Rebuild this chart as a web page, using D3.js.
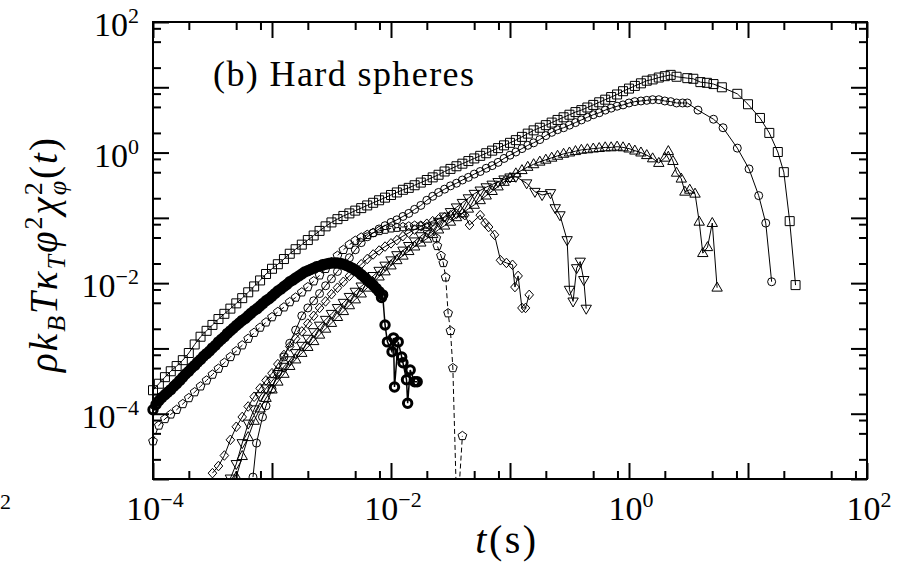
<!DOCTYPE html>
<html>
<head>
<meta charset="utf-8">
<script src="https://cdn.jsdelivr.net/npm/d3@7"></script>
<style>
  html, body { margin: 0; padding: 0; background: #fff; }
  svg { display: block; }
  text { font-family: "Liberation Serif", "Times New Roman", serif; fill: #000; }
</style>
</head>
<body>
<div id="container"></div>
<script>
"use strict";

// Shared log-spaced sampling times (s) for the dense early part of the runs.
const tGrid = [
  1.00e-4, 1.12e-4, 1.26e-4, 1.41e-4, 1.58e-4, 1.78e-4, 2.00e-4, 2.24e-4, 2.51e-4, 2.82e-4,
  3.16e-4, 3.55e-4, 3.98e-4, 4.47e-4, 5.01e-4, 5.62e-4, 6.31e-4, 7.08e-4, 7.94e-4, 8.91e-4,
  1.00e-3, 1.12e-3, 1.26e-3, 1.41e-3, 1.58e-3, 1.78e-3, 2.00e-3, 2.24e-3, 2.51e-3, 2.82e-3,
  3.16e-3, 3.55e-3, 3.98e-3, 4.47e-3, 5.01e-3, 5.62e-3, 6.31e-3, 7.08e-3, 7.94e-3, 8.91e-3,
  1.00e-2, 1.12e-2, 1.26e-2, 1.41e-2, 1.58e-2, 1.78e-2, 2.00e-2, 2.24e-2, 2.51e-2, 2.82e-2,
  3.16e-2, 3.55e-2, 3.98e-2, 4.47e-2, 5.01e-2, 5.62e-2, 6.31e-2, 7.08e-2, 7.94e-2, 8.91e-2,
  0.100, 0.112, 0.126, 0.141, 0.158, 0.178, 0.200, 0.224, 0.251, 0.282,
  0.316, 0.355, 0.398, 0.447, 0.501, 0.562, 0.631, 0.708, 0.794, 0.891,
  1.00, 1.12, 1.26, 1.41, 1.58, 1.78, 2.00, 2.24
];

// Finer sampling used by the bold-circle run.
const tFine = [
  1.00e-4, 1.06e-4, 1.12e-4, 1.19e-4, 1.26e-4, 1.33e-4, 1.41e-4, 1.50e-4, 1.58e-4, 1.68e-4,
  1.78e-4, 1.88e-4, 2.00e-4, 2.11e-4, 2.24e-4, 2.37e-4, 2.51e-4, 2.66e-4, 2.82e-4, 2.99e-4,
  3.16e-4, 3.35e-4, 3.55e-4, 3.76e-4, 3.98e-4, 4.22e-4, 4.47e-4, 4.73e-4, 5.01e-4, 5.31e-4,
  5.62e-4, 5.96e-4, 6.31e-4, 6.68e-4, 7.08e-4, 7.50e-4, 7.94e-4, 8.41e-4, 8.91e-4, 9.44e-4,
  1.00e-3, 1.06e-3, 1.12e-3, 1.19e-3, 1.26e-3, 1.33e-3, 1.41e-3, 1.50e-3, 1.58e-3, 1.68e-3,
  1.78e-3, 1.88e-3, 2.00e-3, 2.11e-3, 2.24e-3, 2.37e-3, 2.51e-3, 2.66e-3, 2.82e-3, 2.99e-3,
  3.16e-3, 3.35e-3, 3.55e-3, 3.76e-3, 3.98e-3, 4.22e-3, 4.47e-3, 4.73e-3, 5.01e-3, 5.31e-3,
  5.62e-3, 5.96e-3, 6.31e-3, 6.68e-3, 7.08e-3, 7.50e-3, 7.94e-3
];

// Squares.
const squaresStart = 0;
const squaresDense = [
  2.29e-4, 2.88e-4, 3.63e-4, 4.47e-4, 5.37e-4, 6.61e-4, 8.51e-4, 1.15e-3, 1.51e-3, 1.86e-3,
  2.29e-3, 2.82e-3, 3.39e-3, 4.07e-3, 4.90e-3, 5.89e-3, 7.24e-3, 8.91e-3, 1.10e-2,
  1.38e-2, 1.66e-2, 1.95e-2, 2.34e-2, 2.82e-2, 3.31e-2, 3.89e-2, 4.57e-2, 5.37e-2, 6.31e-2,
  7.41e-2, 8.51e-2, 9.55e-2,
  0.107, 0.117, 0.129, 0.141, 0.155, 0.170, 0.186, 0.204, 0.224, 0.245,
  0.269, 0.288, 0.316, 0.347, 0.380, 0.417, 0.457, 0.513, 0.562, 0.617,
  0.676, 0.741, 0.813, 0.891, 0.977, 1.07, 1.17,
  1.29, 1.41, 1.55, 1.74, 1.95, 2.19, 2.40, 2.63, 2.88, 3.16,
  3.47, 3.80, 4.17, 4.47, 4.90, 5.37, 5.89, 6.46, 7.08, 7.76,
  8.71, 9.55, 10.5, 11.5, 12.6, 13.2, 14.1, 14.8, 15.5
];
const squaresTail = [
  [2.51, 14.5], [3.09, 13.8], [3.47, 13.5], [3.98, 12.0], [4.52, 11.7], [5.13, 11.2],
  [6.03, 10.0], [8.13, 7.94], [10.0, 5.50], [12.6, 3.39], [15.1, 2.00], [17.8, 1.02],
  [20.0, 0.501], [22.4, 0.0891], [25.1, 0.00933]
];

// Thin circles.
const circlesHead = [[6.92e-4, 1.07e-5], [7.41e-4, 3.55e-5], [8.32e-4, 8.91e-5]];
const circlesStart = 19;
const circlesDense = [
  1.32e-4, 2.40e-4, 4.37e-4, 7.41e-4, 1.20e-3, 1.91e-3, 3.16e-3, 4.17e-3, 5.37e-3, 6.92e-3,
  9.12e-3, 1.17e-2, 1.51e-2, 1.95e-2, 2.45e-2, 3.24e-2, 4.17e-2, 5.13e-2, 5.89e-2, 6.76e-2,
  7.59e-2, 8.51e-2, 9.33e-2, 0.105, 0.117, 0.135, 0.155, 0.186, 0.214, 0.245,
  0.275, 0.309, 0.339, 0.380, 0.417, 0.468, 0.513, 0.575, 0.631, 0.708,
  0.813, 0.912, 1.02, 1.15, 1.29, 1.41, 1.58, 1.82, 2.04, 2.24,
  2.40, 2.63, 2.88, 3.16, 3.47, 3.80, 4.07, 4.47, 4.79, 5.13,
  5.37, 5.75, 6.03, 6.17, 6.31, 6.46, 6.46, 6.17
];
const circlesTail = [
  [2.24, 6.03], [2.51, 5.75], [2.82, 5.75], [3.09, 5.75], [3.80, 4.47], [5.13, 3.24],
  [6.17, 2.40], [8.13, 1.17], [10.2, 0.562], [12.3, 0.219], [14.1, 0.0832], [15.8, 0.0105]
];

// Up triangles.
const upStart = 14;
const upDense = [
  1.07e-5, 2.24e-5, 4.37e-5, 7.76e-5, 1.20e-4, 1.74e-4, 2.34e-4, 3.09e-4, 4.07e-4, 5.37e-4,
  6.76e-4, 8.51e-4, 1.05e-3, 1.29e-3, 1.62e-3, 2.00e-3, 2.45e-3, 3.02e-3, 3.72e-3, 4.57e-3,
  5.62e-3, 6.92e-3, 8.51e-3, 1.02e-2, 1.26e-2, 1.51e-2, 1.86e-2, 2.24e-2, 2.63e-2, 3.09e-2,
  3.63e-2, 4.17e-2, 4.79e-2, 5.62e-2, 6.61e-2, 7.59e-2, 8.71e-2, 0.102, 0.117, 0.138,
  0.158, 0.186, 0.219, 0.257, 0.302, 0.355, 0.407, 0.479, 0.537, 0.603,
  0.661, 0.724, 0.776, 0.832, 0.891, 0.955, 1.00, 1.05, 1.10, 1.12,
  1.15, 1.17, 1.20, 1.20, 1.23, 1.20, 1.15, 1.07, 1.00, 0.912, 0.813
];
const upTail = [
  [1.78, 0.692], [2.00, 0.832], [2.14, 1.05], [2.34, 0.741], [2.51, 0.490], [2.75, 0.398],
  [2.95, 0.251], [3.24, 0.269], [3.59, 0.234], [3.89, 0.0871], [4.17, 0.0288], [4.57, 0.0355],
  [5.01, 0.0832], [5.50, 0.00851]
];

// Down triangles.
const downStart = 13;
const downDense = [
  1.02e-5, 1.70e-5, 3.55e-5, 7.08e-5, 1.17e-4, 1.86e-4, 2.45e-4, 3.16e-4, 4.07e-4, 5.25e-4,
  6.61e-4, 8.51e-4, 1.10e-3, 1.41e-3, 1.78e-3, 2.24e-3, 2.75e-3, 3.39e-3, 4.17e-3, 5.01e-3,
  6.17e-3, 7.41e-3, 8.91e-3, 1.07e-2, 1.29e-2, 1.55e-2, 1.86e-2, 2.24e-2, 2.69e-2, 3.16e-2,
  3.72e-2, 4.37e-2, 5.25e-2, 6.17e-2, 7.41e-2, 8.71e-2, 0.105, 0.123, 0.145, 0.170,
  0.200, 0.234, 0.263, 0.295, 0.324, 0.355, 0.389, 0.417, 0.427
];
const downTail = [
  [0.138, 0.339], [0.162, 0.251], [0.186, 0.224], [0.219, 0.240], [0.240, 0.141],
  [0.263, 0.110], [0.302, 0.0457], [0.316, 0.00794], [0.339, 0.00525], [0.363, 0.0170],
  [0.389, 0.0214], [0.417, 0.0112], [0.437, 0.00407]
];

// Diamonds.
const diamondStart = 10;
const diamondDense = [
  1.23e-5, 1.58e-5, 2.29e-5, 3.98e-5, 6.31e-5, 8.91e-5, 1.29e-4, 1.82e-4, 2.45e-4, 3.24e-4,
  4.17e-4, 5.75e-4, 7.94e-4, 1.07e-3, 1.41e-3, 1.82e-3, 2.40e-3, 3.16e-3, 4.17e-3, 5.25e-3,
  6.76e-3, 8.51e-3, 1.05e-2, 1.29e-2, 1.58e-2, 1.95e-2, 2.34e-2, 2.75e-2, 3.16e-2, 3.63e-2,
  4.07e-2, 4.57e-2, 5.25e-2, 5.89e-2, 6.61e-2, 7.41e-2, 8.13e-2, 8.91e-2, 9.55e-2, 0.102,
  0.110, 0.115, 0.117
];
const diamondTail = [
  [0.0417, 0.110], [0.0457, 0.0776], [0.0562, 0.110], [0.0617, 0.0832], [0.0661, 0.0724],
  [0.0741, 0.0550], [0.0832, 0.0224], [0.0933, 0.0204], [0.105, 0.0191], [0.110, 0.00871],
  [0.117, 0.0129], [0.126, 0.00417], [0.135, 0.00417], [0.145, 0.00661]
];

// Pentagons (dashed).
const pentStart = 0;
const pentDense = [
  3.80e-5, 6.61e-5, 8.32e-5, 9.77e-5, 1.15e-4, 1.41e-4, 1.74e-4, 2.14e-4, 2.63e-4, 3.24e-4,
  3.98e-4, 4.90e-4, 6.03e-4, 7.41e-4, 9.12e-4, 1.12e-3, 1.41e-3, 1.74e-3, 2.09e-3, 2.51e-3,
  3.02e-3, 3.63e-3, 4.27e-3, 5.13e-3, 6.03e-3, 7.24e-3, 8.71e-3, 1.07e-2, 1.32e-2, 1.66e-2,
  2.09e-2, 2.63e-2, 3.24e-2, 3.89e-2, 4.47e-2, 5.01e-2, 5.50e-2, 5.89e-2, 6.31e-2, 6.61e-2,
  6.92e-2, 7.08e-2, 7.24e-2, 7.41e-2, 7.59e-2, 7.59e-2, 7.24e-2
];
const pentTail = [
  [0.0240, 0.0490], [0.0245, 0.0372], [0.0263, 0.0263], [0.0275, 0.0204], [0.0288, 0.0123],
  [0.0302, 0.00347], [0.0316, 0.00186], [0.0331, 5.01e-4], [0.0359, 2.3e-6], [0.0398, 4.57e-5]
];

// Bold circles.
const boldDense = [
  1.15e-4, 1.38e-4, 1.58e-4, 1.78e-4, 1.95e-4, 2.14e-4, 2.34e-4, 2.63e-4, 2.88e-4, 3.24e-4,
  3.63e-4, 4.07e-4, 4.47e-4, 5.01e-4, 5.50e-4, 6.17e-4, 6.76e-4, 7.59e-4, 8.32e-4, 9.12e-4,
  1.02e-3, 1.12e-3, 1.26e-3, 1.38e-3, 1.51e-3, 1.70e-3, 1.86e-3, 2.04e-3, 2.24e-3, 2.45e-3,
  2.69e-3, 2.88e-3, 3.16e-3, 3.47e-3, 3.80e-3, 4.07e-3, 4.47e-3, 4.90e-3, 5.37e-3, 5.75e-3,
  6.31e-3, 6.92e-3, 7.59e-3, 8.13e-3, 8.91e-3, 9.55e-3, 1.05e-2, 1.12e-2, 1.20e-2, 1.29e-2,
  1.38e-2, 1.48e-2, 1.55e-2, 1.62e-2, 1.70e-2, 1.78e-2, 1.82e-2, 1.91e-2, 1.95e-2, 2.00e-2,
  2.04e-2, 2.04e-2, 2.04e-2, 2.00e-2, 1.95e-2, 1.86e-2, 1.78e-2, 1.70e-2, 1.58e-2, 1.48e-2,
  1.35e-2, 1.23e-2, 1.12e-2, 1.02e-2, 9.33e-3, 8.32e-3, 7.41e-3
];
const boldTail = [
  [8.32e-3, 6.03e-3], [8.51e-3, 6.61e-3], [8.91e-3, 2.29e-3], [9.33e-3, 1.26e-3],
  [1.02e-2, 8.91e-4], [1.05e-2, 1.45e-3], [1.07e-2, 2.57e-4], [1.15e-2, 1.26e-3],
  [1.23e-2, 7.41e-4], [1.26e-2, 6.03e-4], [1.35e-2, 3.31e-4], [1.38e-2, 1.45e-4],
  [1.45e-2, 4.68e-4], [1.58e-2, 3.09e-4], [1.66e-2, 3.09e-4]
];

// Tick labels (powers of ten).
const xLabelExps = [-4, -2, 0, 2];
const yLabelExps = [-4, -2, 0, 2];
const minorMantissas = [2, 5, 8];

const width = 902;
const height = 564;
const plot = { left: 153, right: 867, top: 22, bottom: 479 };

const x = d3.scaleLog().domain([1e-4, 1e2]).range([plot.left, plot.right]);
const y = d3.scaleLog().domain([1e-5, 1e2]).range([plot.bottom, plot.top]);

function dense(times, start, values) {
  return values.map((v, i) => [times[start + i], v]);
}

const markers = {
  square: "M-4.5,-4.5h9v9h-9Z",
  triUp: "M0,-5.6L5.2,3.4L-5.2,3.4Z",
  triDown: "M0,5.6L5.2,-3.4L-5.2,-3.4Z",
  diamond: "M0,-4.8L4.3,0L0,4.8L-4.3,0Z",
  pentagon: "M0,-4.6L4.4,-1.4L2.7,3.7L-2.7,3.7L-4.4,-1.4Z"
};

const boldBand = dense(tFine, 0, boldDense);

const series = [
  { marker: "square", points: dense(tGrid, squaresStart, squaresDense).concat(squaresTail) },
  { marker: "circle", r: 4, points: circlesHead.concat(dense(tGrid, circlesStart, circlesDense), circlesTail) },
  { marker: "triUp", points: dense(tGrid, upStart, upDense).concat(upTail) },
  { marker: "triDown", points: dense(tGrid, downStart, downDense).concat(downTail) },
  { marker: "diamond", points: dense(tGrid, diamondStart, diamondDense).concat(diamondTail) },
  { marker: "pentagon", dashed: true, points: dense(tGrid, pentStart, pentDense).concat(pentTail) },
  { marker: "circle", r: 4.2, bold: true, band: boldBand, points: boldBand.concat(boldTail) }
];

const svg = d3.select("#container").append("svg").attr("width", width).attr("height", height);
svg.append("rect").attr("width", width).attr("height", height).attr("fill", "#fff");

svg.append("clipPath").attr("id", "plot-clip")
  .append("rect")
  .attr("x", plot.left - 14)
  .attr("y", plot.top - 14)
  .attr("width", plot.right - plot.left + 28)
  .attr("height", plot.bottom - plot.top + 15);

const dataLayer = svg.append("g").attr("clip-path", "url(#plot-clip)");
const line = d3.line().x((d) => x(d[0])).y((d) => y(d[1]));

series.forEach((s) => {
  const g = dataLayer.append("g");
  g.append("path")
    .datum(s.points)
    .attr("d", line)
    .attr("fill", "none")
    .attr("stroke", "#000")
    .attr("stroke-width", s.bold ? 1.5 : 1)
    .attr("stroke-dasharray", s.dashed ? "5,3" : null);

  // The bold run is so densely sampled that its markers merge into a solid band.
  if (s.band) {
    g.append("path")
      .datum(s.band)
      .attr("d", line)
      .attr("fill", "none")
      .attr("stroke", "#000")
      .attr("stroke-width", 5)
      .attr("stroke-linejoin", "round");
  }

  if (s.marker === "circle") {
    g.selectAll("circle")
      .data(s.points)
      .join("circle")
      .attr("cx", (d) => x(d[0]))
      .attr("cy", (d) => y(d[1]))
      .attr("r", s.r)
      .attr("fill", "none")
      .attr("stroke", "#000")
      .attr("stroke-width", s.bold ? 3 : 1);
  } else {
    g.selectAll("path.m")
      .data(s.points)
      .join("path")
      .attr("class", "m")
      .attr("d", markers[s.marker])
      .attr("transform", (d) => `translate(${x(d[0])},${y(d[1])})`)
      .attr("fill", "none")
      .attr("stroke", "#000")
      .attr("stroke-width", 1);
  }
});

// Ticks on all four sides, pointing inward.
const xMajor = d3.range(-4, 3).map((e) => Math.pow(10, e));
const xMinor = d3.range(-4, 2).flatMap((e) => minorMantissas.map((m) => m * Math.pow(10, e)));
const yMajor = d3.range(-5, 3).map((e) => Math.pow(10, e));
const yMinor = d3.range(-5, 2).flatMap((e) => minorMantissas.map((m) => m * Math.pow(10, e)));

function drawAxis(axisFn, scale, pos, values, size) {
  svg.append("g")
    .attr("transform", pos)
    .call(axisFn(scale).tickValues(values).tickSize(-size).tickFormat(""))
    .call((g) => g.select(".domain").remove())
    .selectAll("line")
    .attr("stroke", "#000")
    .attr("stroke-width", 2);
}

drawAxis(d3.axisBottom, x, `translate(0,${plot.bottom})`, xMajor, 16);
drawAxis(d3.axisBottom, x, `translate(0,${plot.bottom})`, xMinor, 8);
drawAxis(d3.axisTop, x, `translate(0,${plot.top})`, xMajor, 16);
drawAxis(d3.axisTop, x, `translate(0,${plot.top})`, xMinor, 8);
drawAxis(d3.axisLeft, y, `translate(${plot.left},0)`, yMajor, 16);
drawAxis(d3.axisLeft, y, `translate(${plot.left},0)`, yMinor, 8);
drawAxis(d3.axisRight, y, `translate(${plot.right},0)`, yMajor, 16);
drawAxis(d3.axisRight, y, `translate(${plot.right},0)`, yMinor, 8);

svg.append("rect")
  .attr("x", plot.left)
  .attr("y", plot.top)
  .attr("width", plot.right - plot.left)
  .attr("height", plot.bottom - plot.top)
  .attr("fill", "none")
  .attr("stroke", "#000")
  .attr("stroke-width", 2);

function powerLabel(text, exp) {
  text.append("tspan").text("10");
  text.append("tspan")
    .attr("dy", -13)
    .attr("font-size", 22)
    .text(exp < 0 ? "\u2212" + -exp : String(exp));
}

xLabelExps.forEach((e) => {
  const t = svg.append("text")
    .attr("x", x(Math.pow(10, e)) + 2)
    .attr("y", 520)
    .attr("text-anchor", "middle")
    .attr("font-size", 34);
  powerLabel(t, e);
});

yLabelExps.forEach((e) => {
  const t = svg.append("text")
    .attr("x", 139)
    .attr("y", y(Math.pow(10, e)) + 14)
    .attr("text-anchor", "end")
    .attr("font-size", 34);
  powerLabel(t, e);
});

// Cut-off exponent from the neighbouring panel.
svg.append("text").attr("x", 0).attr("y", 509).attr("font-size", 22).text("2");

// Axis titles.
const xt = svg.append("text")
  .attr("x", 507)
  .attr("y", 553)
  .attr("text-anchor", "middle")
  .attr("font-size", 40)
  .attr("letter-spacing", 2.5);
xt.append("tspan").attr("font-style", "italic").text("t");
xt.append("tspan").text("(s)");

const yt = svg.append("text")
  .attr("transform", "translate(57,254) rotate(-90)")
  .attr("text-anchor", "middle")
  .attr("font-size", 39)
  .attr("letter-spacing", 2);
yt.append("tspan").attr("font-style", "italic").text("\u03c1k");
yt.append("tspan").attr("font-style", "italic").attr("font-size", 26).attr("dy", 8).text("B");
yt.append("tspan").attr("font-style", "italic").attr("dy", -8).text("T\u03ba");
yt.append("tspan").attr("font-style", "italic").attr("font-size", 26).attr("dy", 8).text("T");
yt.append("tspan").attr("font-style", "italic").attr("dy", -8).text("\u03c6");
yt.append("tspan").attr("font-size", 26).attr("dy", -15).text("2");
yt.append("tspan").attr("font-style", "italic").attr("dy", 15).text("\u03c7");
yt.append("tspan").attr("font-size", 26).attr("dy", -15).text("2");
yt.append("tspan").attr("font-style", "italic").attr("font-size", 26).attr("dx", -15).attr("dy", 24).text("\u03c6");
yt.append("tspan").attr("dy", -9).text("(");
yt.append("tspan").attr("font-style", "italic").text("t");
yt.append("tspan").text(")");

svg.append("text")
  .attr("x", 213)
  .attr("y", 86)
  .attr("font-size", 36)
  .attr("letter-spacing", 1.4)
  .text("(b) Hard spheres");
</script>
</body>
</html>
